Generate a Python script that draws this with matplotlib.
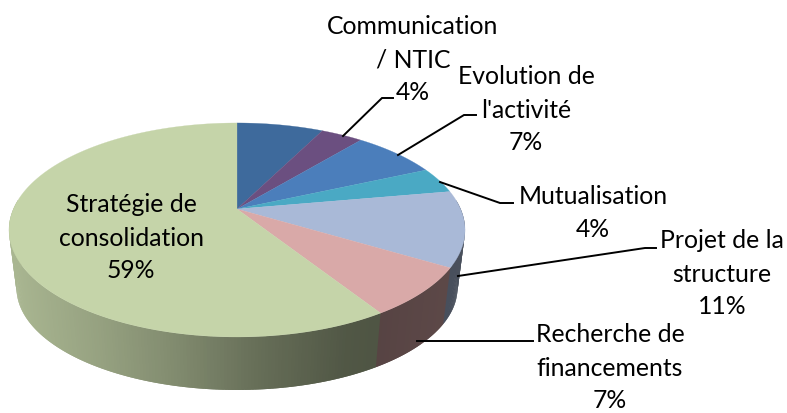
import numpy as np
import matplotlib
matplotlib.use('Agg')
import matplotlib.pyplot as plt

plt.rcParams['font.family'] = ['Lato', 'DejaVu Sans']

# first slice has no label in the chart
names = ['', 'Communication\n/ NTIC', 'Evolution de\nl\'activité', 'Mutualisation',
         'Projet de la\nstructure', 'Recherche de\nfinancements', 'Stratégie de\nconsolidation']
values = [7.4, 3.6, 7.3, 3.9, 11.4, 7.4, 59.0]
colors = ['#3e6a9c', '#6b4f80', '#4b7ebb', '#4aa9c4', '#a9b9d7', '#d9a9a8', '#c5d4a9']

label_pos = [None, (413, 60), (526, 110), (593, 213), (722, 274), (610, 368), (131, 238)]
leaders = [None,
           [(343, 136), (382, 98), (393, 98)],
           [(398, 155), (464, 115), (476, 115)],
           [(440, 182), (500, 203), (513, 203)],
           [(458, 276), (645, 248), (656, 248)],
           [(417, 341), (523, 341), (533, 341)],
           None]

# pie geometry in pixels (perspective ellipse)
CX, CY = 237, 209
A, B, K = 223.6, 102.9, 0.196
BOT_Y, BOT_SX, BOT_SY = 268, 0.967, 0.953
LINE_GAP = 33


def rim(theta):
    d = 1 + K * np.cos(theta)
    return A * np.sin(theta) / d, -B * np.cos(theta) / d


def shade(x):
    return np.interp(x, [10, 100, 180, 260, 350, 380, 460], [0.86, 0.76, 0.65, 0.52, 0.41, 0.40, 0.43])


fig = plt.figure(figsize=(7.87, 4.13), dpi=100)
ax = fig.add_axes([0, 0, 1, 1])
ax.set_xlim(0, 787)
ax.set_ylim(413, 0)
ax.axis('off')

edges = np.cumsum([0] + values) / sum(values) * 2 * np.pi

# side wall, thin strips that overlap the next one so no seams show
end = np.radians(275)
for i, c in enumerate(colors):
    lo, hi = max(edges[i], np.radians(85)), min(edges[i + 1], end)
    if hi <= lo:
        continue
    ts = np.linspace(lo, hi, int((hi - lo) * 80) + 2)
    step = ts[1] - ts[0]
    base = np.array(matplotlib.colors.to_rgb(c))
    for t0, t1 in zip(ts[:-1], ts[1:]):
        t2 = min(t1 + step, end)
        x0, y0 = rim(t0)
        x1, y1 = rim(t2)
        xs = [CX + x0, CX + x1, CX + BOT_SX * x1, CX + BOT_SX * x0]
        ys = [CY + y0, CY + y1, BOT_Y + BOT_SY * y1, BOT_Y + BOT_SY * y0]
        col = base * shade(CX + x0)
        ax.fill(xs, ys, color=col, lw=0, zorder=2)

# top face
for i, c in enumerate(colors):
    ts = np.linspace(edges[i], edges[i + 1], 120)
    x, y = rim(ts)
    ax.fill(np.r_[CX, CX + x], np.r_[CY, CY + y], color=c, lw=0.2, zorder=3)

# labels and leader lines, one text per line
for i, name in enumerate(names):
    if leaders[i] is not None:
        lx, ly = zip(*leaders[i])
        ax.plot(lx, ly, color='black', lw=1.4, zorder=4, solid_joinstyle='miter')
    if label_pos[i] is not None:
        lines = name.split('\n') + [f'{values[i]:.0f}%']
        for j, line in enumerate(lines):
            y = label_pos[i][1] + (j - (len(lines) - 1) / 2) * LINE_GAP
            ax.text(label_pos[i][0], y, line, ha='center', va='center',
                    fontsize=17.8, color='black', zorder=5)

fig.savefig('out.png', dpi=100)
